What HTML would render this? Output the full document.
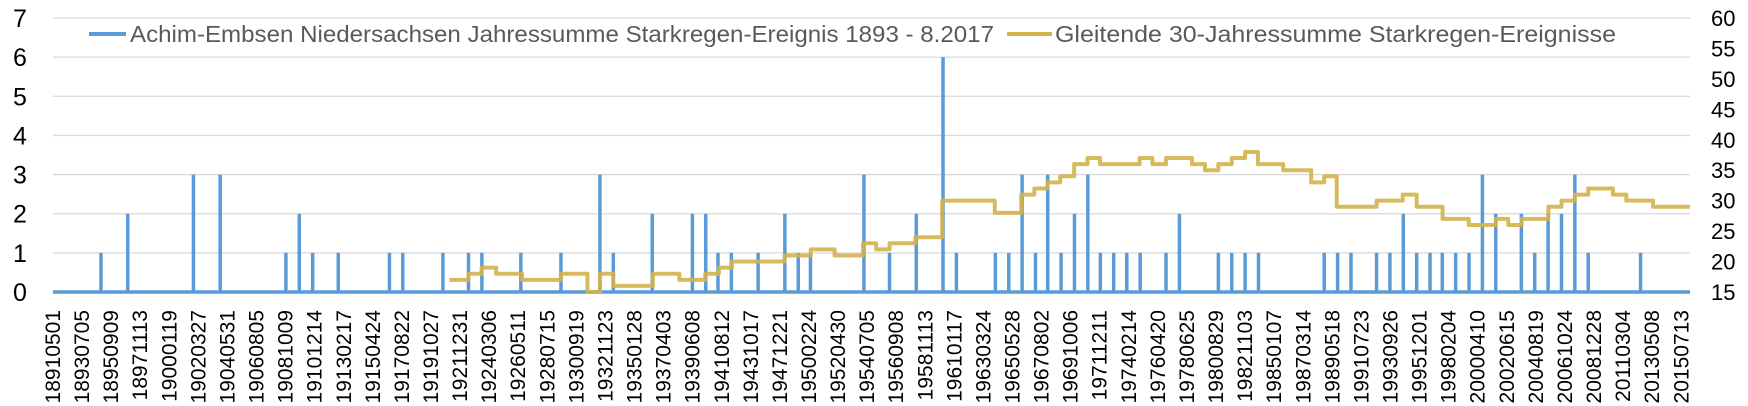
<!DOCTYPE html>
<html><head><meta charset="utf-8"><style>
html,body{margin:0;padding:0;background:#fff;}
svg{display:block;font-family:"Liberation Sans",sans-serif;}
</style></head><body>
<svg id="chart" width="1748" height="406" viewBox="0 0 1748 406" xmlns="http://www.w3.org/2000/svg">
<g id="grid"></g>
<g id="yleft"></g>
<g id="yright"></g>
<g id="xlabels"></g>
<g id="blue"></g>
<g id="yellow"></g>
<g id="legend">
  <g>
    <line x1="89" y1="34" x2="126" y2="34" stroke="#5b9bd5" stroke-width="4"/>
    <text x="130" y="42" font-size="23" fill="#595959" textLength="864" lengthAdjust="spacingAndGlyphs">Achim-Embsen Niedersachsen Jahressumme Starkregen-Ereignis 1893 - 8.2017</text>
  </g>
  <g>
    <line x1="1007" y1="34" x2="1052" y2="34" stroke="#d4b24c" stroke-width="4"/>
    <text x="1055" y="42" font-size="23" fill="#595959" textLength="561" lengthAdjust="spacingAndGlyphs">Gleitende 30-Jahressumme Starkregen-Ereignisse</text>
  </g>
</g>
</svg>
<script>
// x positions are in category-label index units (label i sits at index i)
const xLabels = ["18910501","18930705","18950909","18971113","19000119","19020327","19040531","19060805","19081009","19101214","19130217","19150424","19170822","19191027","19211231","19240306","19260511","19280715","19300919","19321123","19350128","19370403","19390608","19410812","19431017","19471221","19500224","19520430","19540705","19560908","19581113","19610117","19630324","19650528","19670802","19691006","19711211","19740214","19760420","19780625","19800829","19821103","19850107","19870314","19890518","19910723","19930926","19951201","19980204","20000410","20020615","20040819","20061024","20081228","20110304","20130508","20150713"];
const leftTicks = [0,1,2,3,4,5,6,7];
const rightTicks = [15,20,25,30,35,40,45,50,55,60];
const eventPos = [1.65,2.57,4.83,5.75,8.01,8.47,8.93,9.81,11.57,12.03,13.41,14.29,14.75,16.09,17.47,18.81,19.27,20.61,21.99,22.45,22.87,23.33,24.25,25.17,25.63,26.05,27.89,28.77,29.69,30.61,31.07,32.41,32.87,33.33,33.79,34.21,34.67,35.13,35.59,36.02,36.48,36.93,37.39,38.28,38.74,40.08,40.54,41.00,41.46,43.72,44.18,44.64,45.52,45.98,46.44,46.90,47.36,47.78,48.24,48.70,49.16,49.62,50.50,50.96,51.42,51.88,52.34,52.80,54.60];
const eventVal = [1,2,3,3,1,2,1,1,1,1,1,1,1,1,1,3,1,2,2,2,1,1,1,2,1,1,3,1,2,6,1,1,1,3,1,3,1,2,3,1,1,1,1,1,2,1,1,1,1,1,1,1,1,1,2,1,1,1,1,1,3,2,2,1,2,2,3,1,1];
const movPos = [13.63,14.29,14.74,15.24,16.13,17.47,18.38,18.81,19.27,20.63,21.54,22.43,22.90,23.35,25.16,26.06,26.88,27.86,28.31,28.77,29.66,30.58,32.39,33.30,33.75,34.20,34.64,35.12,35.58,36.01,37.37,37.81,38.28,39.17,39.62,40.08,40.54,41.00,41.44,42.31,43.27,43.72,44.15,45.52,46.42,46.90,47.79,48.69,49.62,50.05,50.51,51.43,51.88,52.34,52.80,53.65,54.11,55.03];
const movVal = [17,18,19,18,17,18,15,18,16,18,17,18,19,20,21,22,21,23,22,23,24,30,28,31,32,33,34,36,37,36,37,36,37,36,35,36,37,38,36,35,33,34,29,30,31,29,27,26,27,26,27,29,30,31,32,31,30,29];
const xEnd = 56.3;

const NS="http://www.w3.org/2000/svg";
const L=53, R=1690, T=18, B=292;
const xs = i => L + i*(R-L)/xEnd;
const yl = v => B - v*(B-T)/7;
const yr = v => B - (v-15)*(B-T)/45;
function mk(tag, attrs, parent){const e=document.createElementNS(NS,tag);for(const k in attrs)e.setAttribute(k,attrs[k]);parent.appendChild(e);return e;}

const grid=document.getElementById('grid');
leftTicks.forEach(v=>{ if(v===0) return;
  const ln=mk('line',{x1:L,x2:R,y1:yl(v),y2:yl(v),stroke:'#d9d9d9','stroke-width':1.3},grid);
  
  
});
const yL=document.getElementById('yleft');
leftTicks.forEach(v=>{
  const t=mk('text',{x:20,y:yl(v)+9,'font-size':25,'text-anchor':'middle',fill:'#000'},yL);
  t.textContent=v;
  
  
});
const yR=document.getElementById('yright');
rightTicks.forEach(v=>{
  const t=mk('text',{x:1711,y:yr(v)+8,'font-size':22,fill:'#000'},yR);
  t.textContent=v;
  
  
});
const xg=document.getElementById('xlabels');
xLabels.forEach((s,i)=>{
  const x=xs(i)+7, y=310;
  const t=mk('text',{x:x,y:y,'font-size':21,'text-anchor':'end',fill:'#000',transform:`rotate(-90 ${x} ${y})`},xg);
  t.textContent=s;
  
  
});
const bg=document.getElementById('blue');
const base=mk('line',{x1:L,x2:R,y1:yl(0),y2:yl(0),stroke:'#5b9bd5','stroke-width':3.5},bg);


eventPos.forEach((p,i)=>{
  const ln=mk('line',{x1:xs(p),x2:xs(p),y1:yl(0),y2:yl(eventVal[i]),stroke:'#5b9bd5','stroke-width':3.5},bg);
  
  
});
const yg=document.getElementById('yellow');
let d='';
movPos.forEach((p,i)=>{
  const x=xs(p), y=yr(movVal[i]);
  if(i===0) d+=`M${x},${y}`; else d+=` V${y}`;
  const nx = i<movPos.length-1 ? xs(movPos[i+1]) : R;
  d+=` H${nx}`;
});
const path=mk('path',{d:d,fill:'none',stroke:'#d4b24c','stroke-width':4,'stroke-linejoin':'round','stroke-opacity':0.9},yg);


</script>
</body></html>
